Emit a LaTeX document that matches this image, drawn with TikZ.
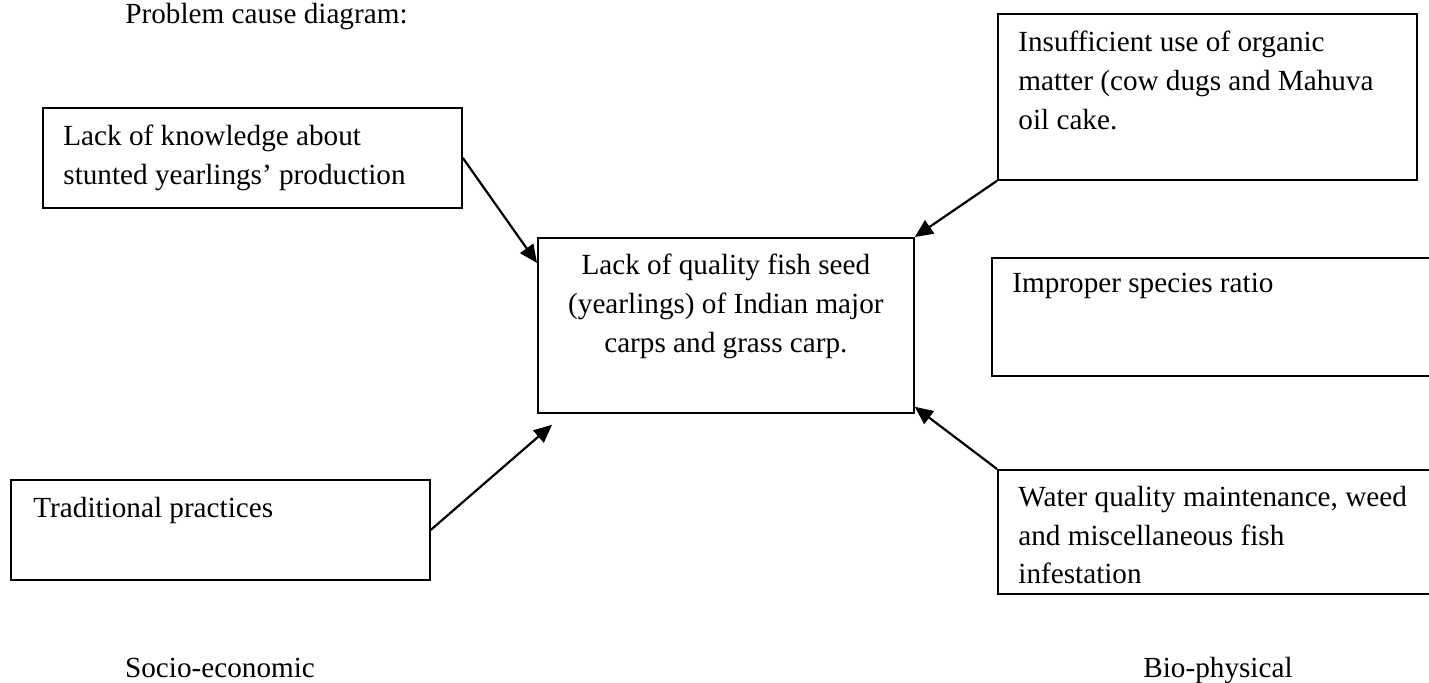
\documentclass[tikz,border=0pt]{standalone}
\usepackage{fontspec}
\setmainfont{Liberation Serif}
\usepackage{tikz}
\usetikzlibrary{arrows.meta}
\tikzset{
  flow/.style={-{Triangle[length=9pt,width=8pt]}, line width=1.1pt,
    draw=black},
  cause box/.style={draw=black, line width=0.9pt, anchor=north west,
    inner sep=0pt},
  box text/.style={anchor=north west, align=left, inner sep=0pt,
    xshift=10.5pt, yshift=-9pt},
  centre text/.style={anchor=north, align=center, inner sep=0pt,
    yshift=-8.5pt},
  side label/.style={anchor=base, inner sep=0pt}
}

\begin{document}
\begin{tikzpicture}[x=0.5pt, y=-0.5pt, font=\fontsize{14.6}{19.3}\selectfont]
  \useasboundingbox (0,0) rectangle (1429,683);
  \node[side label, anchor=base west] (title) at (125,24)
    {Problem cause diagram:};
  % the problem in the middle
  \node[cause box, minimum width=188pt, minimum height=87.5pt,
    label={[centre text]north:{Lack of quality fish seed\\(yearlings) of Indian major\\carps and grass carp.}}]
    (problem) at (537,237) {};
  % socio-economic causes
  \node[cause box, minimum width=209.5pt, minimum height=50pt,
    label={[box text]north west:{Lack of knowledge about\\stunted yearlings’ production}}]
    (knowledge) at (42,107) {};
  \node[cause box, minimum width=209.5pt, minimum height=50pt,
    label={[box text, xshift=1pt]north west:{Traditional practices}}]
    (traditional) at (10,479) {};
  % bio-physical causes
  \node[cause box, minimum width=209.5pt, minimum height=83pt,
    label={[box text]north west:{Insufficient use of organic\\matter (cow dugs and Mahuva\\oil cake.}}]
    (organic) at (997,13) {};
  \node[cause box, minimum width=230pt, minimum height=59pt,
    label={[box text, yshift=1pt]north west:{Improper species ratio}}]
    (ratio) at (991,257) {};
  \node[cause box, minimum width=230pt, minimum height=62pt,
    label={[box text, yshift=0.5pt]north west:{Water quality maintenance, weed\\and miscellaneous fish\\infestation}}]
    (water) at (997,469) {};
  \draw[flow] (knowledge.east) -- ([yshift=-13pt]problem.north west);
  \draw[flow] (traditional.east) -- ([xshift=7.5pt,yshift=-5.5pt]problem.south west);
  \draw[flow] (organic.south west) -- (problem.north east);
  \draw[flow] (water.north west) -- ([yshift=3.5pt]problem.south east);
  \node[side label] (socio) at (220,677) {Socio-economic};
  \node[side label] (bio) at (1218,677) {Bio-physical};
\end{tikzpicture}
\end{document}
